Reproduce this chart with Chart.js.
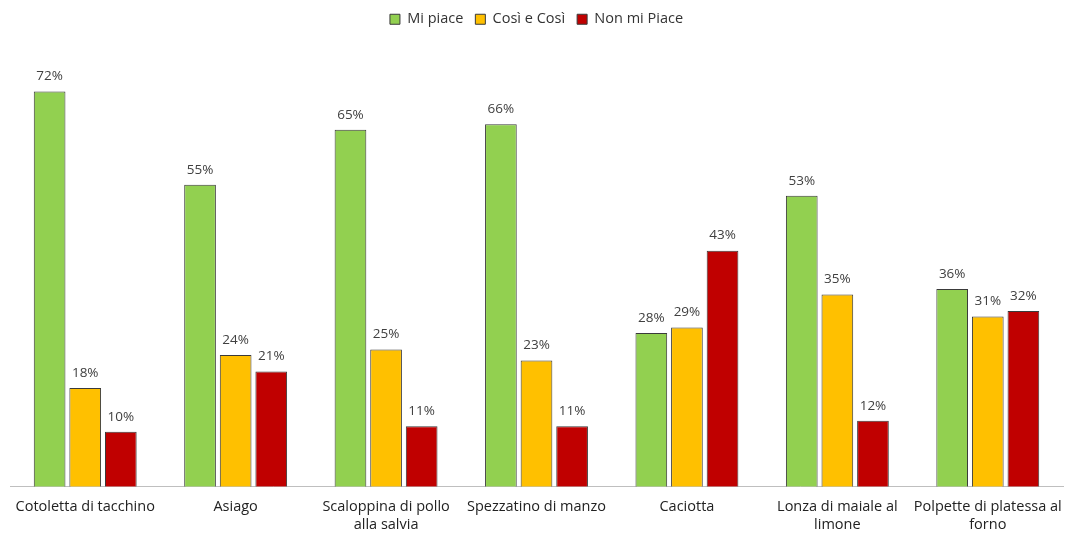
<!DOCTYPE html>
<html>
<head>
<meta charset="utf-8">
<script src="https://cdn.jsdelivr.net/npm/chart.js@4"></script>
<style>
  html, body { margin: 0; padding: 0; background: #fff; }
  #wrap { width: 1075px; height: 533px; }
</style>
</head>
<body>
<div id="wrap"><canvas id="chart"></canvas></div>
<script>
// Survey results per dish (percent)
const dishes = [
    'Cotoletta di tacchino',
    'Asiago',
    ['Scaloppina di pollo', 'alla salvia'],
    'Spezzatino di manzo',
    'Caciotta',
    ['Lonza di maiale al', 'limone'],
    ['Polpette di platessa al', 'forno']
];
const likeValues = [72, 55, 65, 66, 28, 53, 36];
const sosoValues = [18, 24, 25, 23, 29, 35, 31];
const dislikeValues = [10, 21, 11, 11, 43, 12, 32];

const FONT = '"Open Sans", Lato, sans-serif';

// Draw the percentage above each bar
const valueLabels = {
    id: 'valueLabels',
    afterDatasetsDraw(chart) {
        const ctx = chart.ctx;
        ctx.save();
        ctx.font = '13.5px ' + FONT;
        ctx.fillStyle = '#404040';
        ctx.textAlign = 'center';
        ctx.textBaseline = 'middle';
        chart.data.datasets.forEach((ds, i) => {
            chart.getDatasetMeta(i).data.forEach((bar, j) => {
                ctx.fillText(ds.data[j] + '%', bar.x, bar.y - 15);
            });
        });
        ctx.restore();
    }
};

// Leave some extra room under the legend before the plot starts
const legendGap = {
    id: 'legendGap',
    beforeLayout(chart) {
        const lg = chart.legend;
        if (lg && !lg._gapPatched) {
            const fit = lg.fit.bind(lg);
            lg.fit = function() {
                fit();
                this.height += 11;
            };
            lg._gapPatched = true;
        }
    }
};

new Chart(document.getElementById('chart'), {
    type: 'bar',
    data: {
        labels: dishes,
        datasets: [
            { label: 'Mi piace', data: likeValues, backgroundColor: '#92D050' },
            { label: 'Così e Così', data: sosoValues, backgroundColor: '#FFC000' },
            { label: 'Non mi Piace', data: dislikeValues, backgroundColor: '#C00000' }
        ]
    },
    options: {
        responsive: true,
        maintainAspectRatio: false,
        animation: false,
        datasets: {
            bar: {
                borderColor: '#3a3a3a',
                borderWidth: 1,
                categoryPercentage: 0.71,
                barPercentage: 0.89
            }
        },
        layout: { padding: { left: 10, right: 12, top: 0, bottom: -12 } },
        plugins: {
            legend: {
                position: 'top',
                labels: {
                    font: { family: FONT, size: 14.5 },
                    color: '#333',
                    boxWidth: 10,
                    boxHeight: 10,
                    padding: 12
                }
            },
            tooltip: { enabled: false }
        },
        scales: {
            x: {
                grid: { display: false, drawTicks: false },
                border: { color: '#bfbfbf', width: 1 },
                ticks: {
                    font: { family: FONT, size: 14.5, lineHeight: 1.25 },
                    color: '#222',
                    padding: 11,
                    maxRotation: 0,
                    autoSkip: false
                }
            },
            y: {
                display: false,
                min: 0,
                max: 80
            }
        }
    },
    plugins: [valueLabels, legendGap]
});
</script>
</body>
</html>
